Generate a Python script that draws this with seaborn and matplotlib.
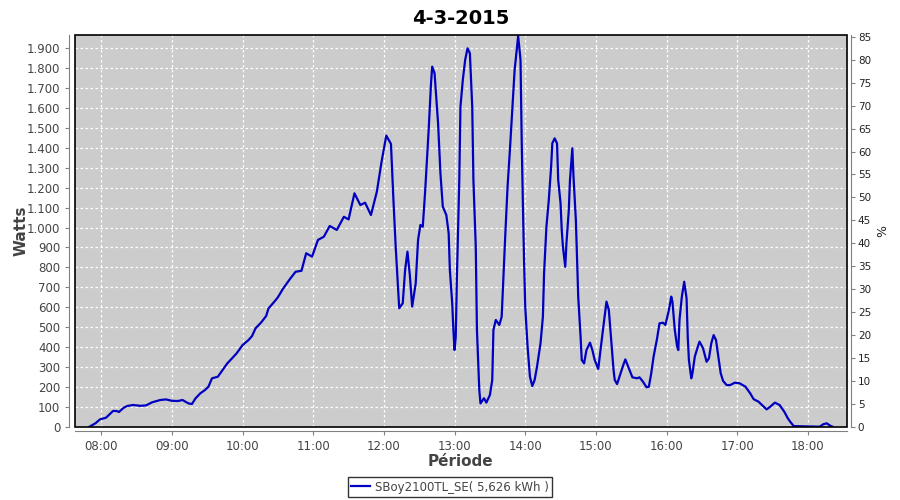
import numpy as np
import pandas as pd
import matplotlib
matplotlib.use("Agg")
import matplotlib.pyplot as plt
import matplotlib.dates as mdates
from matplotlib.patches import Rectangle
from matplotlib.ticker import FuncFormatter, MultipleLocator
import seaborn as sns

# lectures (heure, puissance en W)
heures = ["07:50", "07:55", "07:59", "08:04", "08:07", "08:10", "08:13", "08:15", "08:19", "08:22",
          "08:27", "08:33", "08:38", "08:43", "08:50", "08:55", "09:00", "09:05", "09:09", "09:14",
          "09:17", "09:20", "09:24", "09:28", "09:31", "09:34", "09:39", "09:42", "09:47", "09:51",
          "09:55", "10:00", "10:05", "10:08", "10:11", "10:16", "10:20", "10:22", "10:27", "10:30",
          "10:34", "10:40", "10:45", "10:50", "10:54", "10:59", "11:04", "11:09", "11:14", "11:20",
          "11:26", "11:30", "11:35", "11:40", "11:44", "11:49", "11:54", "11:58", "12:02", "12:06",
          "12:08", "12:10", "12:13", "12:16", "12:18", "12:20", "12:22", "12:24", "12:27", "12:29",
          "12:31", "12:33", "12:35", "12:38", "12:40", "12:41", "12:43", "12:46", "12:48", "12:50",
          "12:53", "12:55", "12:56", "12:58", "12:59", "13:00", "13:01", "13:02", "13:04", "13:05",
          "13:07", "13:09", "13:11", "13:13", "13:15", "13:16", "13:18", "13:19", "13:21", "13:22",
          "13:25", "13:27", "13:30", "13:32", "13:33", "13:35", "13:38", "13:40", "13:41", "13:43",
          "13:45", "13:47", "13:49", "13:51", "13:53", "13:54", "13:56", "13:57", "13:58", "13:59",
          "14:00", "14:02", "14:04", "14:06", "14:08", "14:10", "14:13", "14:15", "14:16", "14:18",
          "14:20", "14:22", "14:23", "14:25", "14:27", "14:28", "14:30", "14:31", "14:32", "14:34",
          "14:35", "14:37", "14:38", "14:40", "14:41", "14:43", "14:44", "14:45", "14:47", "14:48",
          "14:50", "14:52", "14:55", "14:57", "14:59", "15:02", "15:06", "15:09", "15:11", "15:13",
          "15:15", "15:16", "15:18", "15:20", "15:23", "15:25", "15:28", "15:31", "15:35", "15:37",
          "15:40", "15:43", "15:45", "15:47", "15:49", "15:52", "15:54", "15:57", "15:59", "16:02",
          "16:04", "16:05", "16:07", "16:09", "16:10", "16:11", "16:13", "16:15", "16:17", "16:18",
          "16:19", "16:21", "16:22", "16:24", "16:27", "16:28", "16:31", "16:34", "16:36", "16:38",
          "16:40", "16:42", "16:44", "16:46", "16:48", "16:51", "16:54", "16:58", "17:02", "17:07",
          "17:11", "17:14", "17:18", "17:21", "17:25", "17:28", "17:32", "17:36", "17:40", "17:43",
          "17:45", "17:48", "18:10", "18:13", "18:16", "18:19", "18:21"]
watts = [0, 17, 37, 45, 62, 79, 79, 74, 95, 104,
         109, 105, 107, 122, 134, 137, 130, 129, 134, 117,
         114, 142, 167, 184, 201, 243, 251, 276, 318, 343,
         369, 410, 435, 455, 494, 525, 556, 594, 628, 650,
         690, 740, 778, 783, 871, 854, 938, 954, 1008, 988,
         1054, 1041, 1172, 1113, 1125, 1063, 1180, 1330, 1462, 1420,
         1150, 904, 595, 620, 787, 879, 762, 603, 720, 938,
         1013, 1004, 1180, 1490, 1724, 1808, 1775, 1524, 1272, 1105,
         1063, 971, 787, 620, 486, 385, 452, 753, 1239, 1607,
         1741, 1842, 1900, 1875, 1607, 1239, 904, 486, 184, 117,
         143, 121, 159, 235, 486, 536, 511, 552, 687, 954,
         1205, 1390, 1590, 1791, 1908, 1962, 1842, 1440, 1122, 837,
         603, 402, 251, 204, 235, 301, 419, 552, 770, 1004,
         1138, 1306, 1423, 1448, 1423, 1239, 1122, 988, 904, 803,
         921, 1088, 1239, 1398, 1255, 1038, 854, 653, 452, 335,
         318, 385, 422, 385, 335, 290, 486, 628, 586, 435,
         285, 235, 214, 251, 305, 338, 293, 248, 243, 248,
         226, 198, 201, 268, 352, 444, 519, 522, 511, 586,
         653, 628, 486, 402, 385, 536, 653, 728, 645, 452,
         335, 243, 268, 352, 410, 427, 394, 326, 343, 419,
         460, 435, 352, 268, 230, 209, 209, 221, 218, 201,
         168, 138, 126, 109, 87, 100, 121, 109, 75, 42,
         25, 3, 0, 12, 17, 5, 0]

jour = "2015-03-04"
titre = "4-3-2015"
serie = "SBoy2100TL_SE( 5,626 kWh )"

df = pd.DataFrame({"temps": pd.to_datetime([jour + " " + h for h in heures]), "watts": watts})

gris = "#444444"
fig = plt.figure(figsize=(9, 5), dpi=100)
ax = fig.add_axes([0.0833, 0.1466, 0.8575, 0.7834])
ax.set_facecolor("#CCCCCC")

sns.lineplot(data=df, x="temps", y="watts", ax=ax, color="#0000C0", linewidth=1.6, label=serie, legend=False)

xmin = pd.Timestamp(jour + " 07:37:40")
xmax = pd.Timestamp(jour + " 18:33:00")
ax.set_xlim(xmin, xmax)
ymax = 1967
ax.set_ylim(0, ymax)

ax.xaxis.set_major_locator(mdates.HourLocator())
ax.xaxis.set_major_formatter(mdates.DateFormatter("%H:%M"))
ax.yaxis.set_major_locator(MultipleLocator(100))
ax.yaxis.set_major_formatter(FuncFormatter(lambda v, p: f"{int(v):,}".replace(",", ".")))

ax.grid(True, color="white", linestyle=(0, (2, 2)), linewidth=0.9)
ax.set_axisbelow(True)

for s in ["top", "right"]:
    ax.spines[s].set_visible(False)
ax.spines["left"].set_position(("outward", 4))
ax.spines["bottom"].set_position(("outward", 3))
ax.spines["left"].set_color("#808080")
ax.spines["bottom"].set_color("#808080")
ax.tick_params(axis="both", colors="#808080", labelcolor=gris, labelsize=8.5, length=3, width=0.8)
ax.add_patch(Rectangle((0, 0), 1, 1, transform=ax.transAxes, fill=False, edgecolor="black",
                       linewidth=1.2, clip_on=False, zorder=5))

ax.set_xlabel("Période", fontsize=11, fontweight="bold", color=gris, labelpad=0.5)
ax.set_ylabel("Watts", fontsize=11, fontweight="bold", color=gris, labelpad=-1)
ax.set_title(titre, fontsize=14, fontweight="bold", pad=8)

ax2 = ax.twinx()
ax2.set_ylim(0, ymax / 23.03)
ax2.yaxis.set_major_locator(MultipleLocator(5))
for s in ["top", "left", "bottom"]:
    ax2.spines[s].set_visible(False)
ax2.spines["right"].set_position(("outward", 3))
ax2.spines["right"].set_color("#808080")
ax2.tick_params(axis="y", colors="#808080", labelcolor="#222222", labelsize=7.5, length=3, width=0.8, pad=2)
ax2.set_ylabel("%", fontsize=9, color="#222222", labelpad=4)

h, l = ax.get_legend_handles_labels()
leg = fig.legend(h, l, loc="center", bbox_to_anchor=(0.5, 0.026), fontsize=8.5, frameon=True,
                 fancybox=False, edgecolor="black", handlelength=1.6, borderpad=0.3, handletextpad=0.4)
leg.get_frame().set_linewidth(1.0)
for t in leg.get_texts():
    t.set_color(gris)

fig.savefig("out.png", dpi=100)
